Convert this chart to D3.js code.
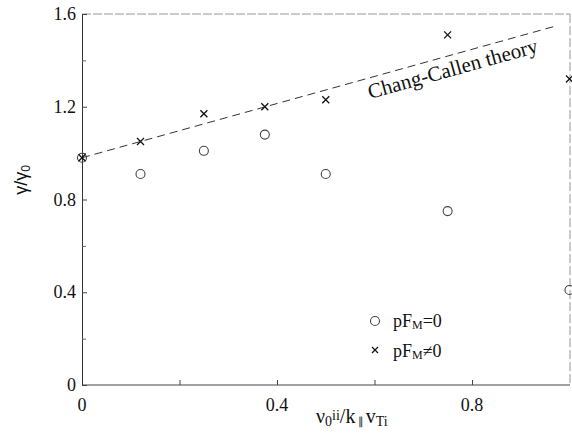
<!DOCTYPE html>
<html>
<head>
<meta charset="utf-8">
<script src="https://cdn.jsdelivr.net/npm/d3@7"></script>
<style>
  body { margin: 0; background: #fff; }
  text { font-family: "Liberation Serif", "Times New Roman", serif; fill: #111; }
</style>
</head>
<body>
<div id="mainChart"></div>
<script>
// collisionality values (x) and normalised growth rate (y)
const xValues = [ 0, 0.12, 0.25, 0.375, 0.5, 0.75, 1.0 ];
const noFlowValues = [ 0.98, 0.91, 1.01, 1.08, 0.91, 0.75, 0.41 ];   // pF_M = 0
const flowValues = [ 0.98, 1.05, 1.17, 1.20, 1.23, 1.51, 1.32 ];     // pF_M != 0
const theoryX = [ 0, 0.975 ];
const theoryY = [ 0.98, 1.55 ];
const yTicks = [ 0, 0.4, 0.8, 1.2, 1.6 ];
const yMinorTicks = [ 0.2, 0.6, 1.0, 1.4 ];
const xTicks = [ 0, 0.4, 0.8 ];
const xMinorTicks = [ 0.2, 0.6 ];

const CHART_SIZE = { width: 572, height: 445 };
const MARGIN = { top: 14, right: 2, bottom: 60, left: 82 };

const x = d3.scaleLinear()
    .domain([ 0, 1 ])
    .range([ MARGIN.left, MARGIN.left + 487.5 ]);
const y = d3.scaleLinear()
    .domain([ 0, 1.6 ])
    .range([ CHART_SIZE.height - MARGIN.bottom, MARGIN.top ]);

const svg = d3.select('#mainChart')
    .append('svg')
    .attr('width', CHART_SIZE.width)
    .attr('height', CHART_SIZE.height);

const x0 = x(0), x1 = CHART_SIZE.width - MARGIN.right;
const y0 = y(0), y1 = y(1.6);

// frame: top and right edges look faded in the scan
svg.append('line').attr('x1', x0).attr('x2', x1).attr('y1', y1).attr('y2', y1)
    .attr('stroke', '#999').attr('stroke-dasharray', '9,2');
svg.append('line').attr('x1', x1).attr('x2', x1).attr('y1', y1).attr('y2', y0)
    .attr('stroke', '#999').attr('stroke-dasharray', '9,3');

// left axis, ticks pointing inward
svg.append('g')
    .attr('transform', `translate(${x0},0)`)
    .call(d3.axisRight(y).tickValues(yTicks).tickSize(5).tickFormat(''))
    .call(g => g.select('.domain').attr('stroke', '#333'))
    .call(g => g.selectAll('.tick line').attr('stroke', '#444'));
svg.append('g')
    .attr('transform', `translate(${x0},0)`)
    .call(d3.axisRight(y).tickValues(yMinorTicks).tickSize(4).tickFormat(''))
    .call(g => g.select('.domain').remove())
    .call(g => g.selectAll('.tick line').attr('stroke', '#666'));
svg.append('g').selectAll('text')
    .data(yTicks)
    .join('text')
    .attr('x', x0 - 6)
    .attr('y', d => y(d) + 6)
    .attr('text-anchor', 'end')
    .attr('font-size', 18)
    .text(d => d === 0 ? '0' : d3.format('.1f')(d));

// bottom axis
svg.append('g')
    .attr('transform', `translate(0,${y0})`)
    .call(d3.axisTop(x).tickValues(xTicks.concat(xMinorTicks).filter(d => d > 0)).tickSize(5).tickFormat(''))
    .call(g => g.select('.domain').attr('d', `M${x0},0H${x1}`).attr('stroke', '#444'))
    .call(g => g.selectAll('.tick line').attr('stroke', '#444'));
svg.append('g').selectAll('text')
    .data(xTicks)
    .join('text')
    .attr('x', d => x(d))
    .attr('y', y0 + 26)
    .attr('text-anchor', 'middle')
    .attr('font-size', 18)
    .text(d => d === 0 ? '0' : d3.format('.1f')(d));

// axis titles
const xt = svg.append('text')
    .attr('x', 316)
    .attr('y', 423)
    .attr('font-size', 20);
xt.append('tspan').text('ν');
xt.append('tspan').attr('font-size', 14).attr('dy', 3).text('0');
xt.append('tspan').attr('font-size', 14).attr('dy', -6).text('ii');
xt.append('tspan').attr('dy', 3).text('/k');
xt.append('tspan').attr('font-size', 11).attr('dy', 2).text('\u2009\u2225\u2009');
xt.append('tspan').attr('dy', -2).text('v');
xt.append('tspan').attr('font-size', 14).attr('dy', 3).text('Ti');

const yt = svg.append('text')
    .attr('transform', 'translate(27,180) rotate(-90)')
    .attr('text-anchor', 'middle')
    .style('font-family', '"Liberation Sans", Arial, sans-serif')
    .attr('font-size', 18);
yt.append('tspan').text('γ/γ');
yt.append('tspan').attr('font-size', 12).attr('dy', 3).text('0');

// theory line
svg.append('path')
    .attr('d', d3.line()(theoryX.map((d, i) => [ x(d), y(theoryY[i]) ])))
    .attr('fill', 'none')
    .attr('stroke', '#333')
    .attr('stroke-dasharray', '8,5');

const angle = Math.atan2(y(theoryY[1]) - y(theoryY[0]), x(theoryX[1]) - x(theoryX[0])) * 180 / Math.PI;
svg.append('text')
    .attr('transform', `translate(370,99) rotate(${angle})`)
    .attr('font-size', 21)
    .text('Chang-Callen theory');

// markers
const crossPath = s => `M${-s},${-s}L${s},${s}M${-s},${s}L${s},${-s}`;

svg.append('g').selectAll('circle')
    .data(xValues)
    .join('circle')
    .attr('cx', d => x(d))
    .attr('cy', (d, i) => y(noFlowValues[i]))
    .attr('r', 4.5)
    .attr('fill', 'none')
    .attr('stroke', '#444')
    .attr('stroke-width', 1.1);

svg.append('g').selectAll('path')
    .data(xValues)
    .join('path')
    .attr('transform', (d, i) => `translate(${x(d)},${y(flowValues[i])})`)
    .attr('d', crossPath(3.5))
    .attr('stroke', '#111')
    .attr('stroke-width', 1.3);

// legend
const legend = svg.append('g');
legend.append('circle').attr('cx', 375).attr('cy', 321).attr('r', 4.5)
    .attr('fill', 'none').attr('stroke', '#444').attr('stroke-width', 1.1);
legend.append('path').attr('transform', 'translate(375,350)').attr('d', crossPath(3))
    .attr('stroke', '#111').attr('stroke-width', 1.2);

const addLabel = (yy, sign) => {
    const t = legend.append('text').attr('x', 393).attr('y', yy).attr('font-size', 18);
    t.append('tspan').text('pF');
    t.append('tspan').attr('font-size', 12).attr('dy', 2).text('M');
    t.append('tspan').attr('dy', -2).text(sign + '0');
};
addLabel(327, '=');
addLabel(357, '≠');
</script>
</body>
</html>
